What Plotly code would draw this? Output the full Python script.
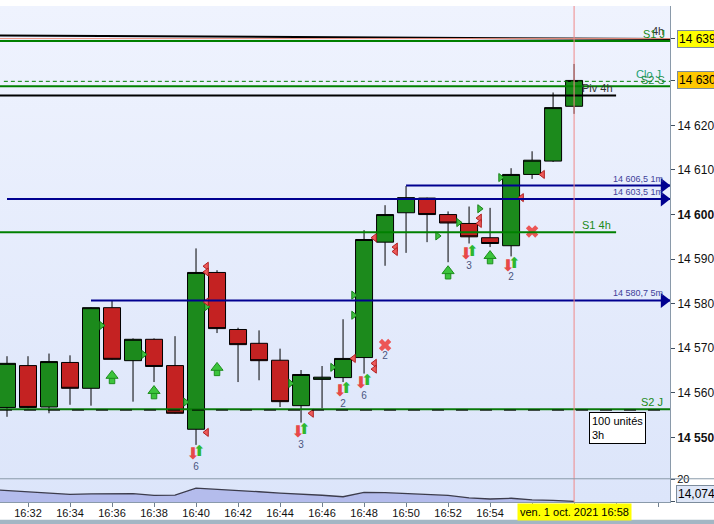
import base64
import plotly.graph_objects as go

DAY = "2021-10-01 "

# ---------------- data ----------------
candle_times = ["16:31", "16:32", "16:33", "16:34", "16:35", "16:36", "16:37", "16:38",
                "16:39", "16:40", "16:41", "16:42", "16:43", "16:44", "16:45", "16:46",
                "16:47", "16:48", "16:49", "16:50", "16:51", "16:52", "16:53", "16:54",
                "16:55", "16:56", "16:57", "16:58"]
opens = [14556.7, 14566.1, 14556.8, 14566.8, 14561.0, 14579.1, 14567.2, 14572.0,
         14566.1, 14551.8, 14587.0, 14574.2, 14571.1, 14567.3, 14557.1, 14563.0,
         14563.4, 14567.9, 14593.8, 14600.4, 14603.7, 14600.0, 14598.0, 14594.8,
         14593.0, 14609.0, 14612.0, 14624.3]
highs = [14568.2, 14568.2, 14568.8, 14568.4, 14579.2, 14580.6, 14572.2, 14572.2,
         14572.7, 14592.4, 14587.5, 14574.6, 14574.0, 14569.9, 14565.1, 14566.0,
         14576.5, 14596.5, 14602.1, 14606.4, 14603.8, 14600.7, 14601.8, 14601.5,
         14610.4, 14614.2, 14627.4, 14633.8]
lows = [14554.6, 14556.5, 14555.4, 14557.3, 14557.1, 14567.4, 14558.0, 14562.4,
        14555.3, 14548.3, 14573.4, 14562.4, 14562.8, 14556.8, 14553.3, 14556.5,
        14562.4, 14564.3, 14588.5, 14591.4, 14593.8, 14589.3, 14593.5, 14592.7,
        14590.6, 14608.0, 14611.8, 14622.6]
closes = [14566.6, 14556.7, 14567.0, 14561.0, 14579.1, 14567.5, 14572.0, 14565.9,
          14555.4, 14587.0, 14574.4, 14570.8, 14567.2, 14558.0, 14564.1, 14563.5,
          14567.7, 14594.4, 14600.0, 14603.8, 14600.0, 14598.1, 14595.0, 14593.5,
          14609.0, 14612.2, 14624.0, 14630.1]

# lower indicator panel
ind_times = ["16:30", "16:31", "16:32", "16:33", "16:34", "16:35", "16:36", "16:37",
             "16:38", "16:39", "16:40", "16:41", "16:42", "16:43", "16:44", "16:45",
             "16:46", "16:47", "16:48", "16:49", "16:50", "16:51", "16:52", "16:53",
             "16:54", "16:55", "16:56", "16:57", "16:58"]
ind_values = [17.3, 16.95, 16.6, 16.3, 15.95, 16.05, 16.2, 16.15, 15.65, 15.75, 17.6,
              17.35, 17.1, 16.65, 16.3, 16.05, 15.7, 15.3, 16.45, 16.4, 16.2, 15.95,
              15.65, 14.98, 14.7, 14.9, 14.45, 14.35, 14.074]

# signal markers
green_tri_times = ["16:35:30", "16:37:30", "16:39:30", "16:40:30", "16:44:30", "16:46:30",
                   "16:47:30", "16:47:30", "16:51:30", "16:52:30", "16:53:30", "16:54:30"]
green_tri_prices = [14575.1, 14568.6, 14557.9, 14579.3, 14562.1, 14565.7,
                    14581.9, 14577.4, 14595.2, 14598.2, 14601.3, 14608.3]
red_tri_times = ["16:40:30", "16:40:30", "16:40:30", "16:40:30", "16:45:30", "16:47:30",
                 "16:48:30", "16:48:30", "16:48:30", "16:49:30", "16:49:30", "16:53:30",
                 "16:53:30", "16:55:30", "16:56:30"]
red_tri_prices = [14588.4, 14587.1, 14580.4, 14551.1, 14555.4, 14567.7,
                  14594.8, 14566.6, 14565.3, 14592.7, 14591.7, 14599.2,
                  14598.0, 14603.8, 14609.0]
up_arrow_times = ["16:36", "16:38", "16:41", "16:52", "16:54"]
up_arrow_prices = [14563.5, 14560.1, 14565.3, 14587.0, 14590.4]
pair_times = ["16:40", "16:45", "16:47", "16:48", "16:53", "16:55"]
pair_prices = [14546.0, 14551.0, 14560.2, 14561.9, 14591.0, 14588.2]
pair_counts = ["6", "3", "2", "6", "3", "2"]
pair_count_prices = [14543.3, 14548.25, 14557.4, 14559.2, 14588.4, 14585.8]
cross_times = ["16:49", "16:56"]
cross_prices = [14570.7, 14596.2]
cross_counts = ["2", ""]
cross_count_prices = [14568.05, 14594.0]

# horizontal levels
trend_start, trend_end = 14640.2, 14639.4
level_salmon = 14639.5
level_s1_j = 14638.95
level_clo_j = 14629.9
level_s2_s = 14628.8
level_piv_4h = 14626.7
level_1m_a = 14606.5
level_1m_b = 14603.5
level_s1_4h = 14596.0
level_5m = 14580.7
level_s2_j = 14556.3
start_1m_a, start_1m_b, start_5m, end_4h = "16:50", "16:31", "16:35", "17:00"

price_ticks = [14550, 14560, 14570, 14580, 14590, 14600, 14610, 14620]
time_ticks = ["16:32", "16:34", "16:36", "16:38", "16:40", "16:42", "16:44", "16:46",
              "16:48", "16:50", "16:52", "16:54", "16:56", "16:58", "17:00", "17:02"]
time_tick_labels = ["16:32", "16:34", "16:36", "16:38", "16:40", "16:42", "16:44", "16:46",
                    "16:48", "16:50", "16:52", "16:54", "", "", "", ""]
last_price_hi = 14639.5
last_price_cl = 14630.1
cursor_time = "16:58"
price_range = [14540.69, 14646.81]
ind_range = [13.89, 20.13]

X_START = DAY + "16:30:40"
X_END = DAY + "17:02:34"
ARROW_X = DAY + "17:02:17"


def t(s):
    return DAY + s


def shift(s, sec):
    import datetime as dt
    base = dt.datetime.strptime(DAY + (s if s.count(":") == 2 else s + ":00"), "%Y-%m-%d %H:%M:%S")
    return (base + dt.timedelta(seconds=sec)).strftime("%Y-%m-%d %H:%M:%S")


FONT = "Liberation Sans, Arial, sans-serif"
ARROWFONT = "DejaVu Sans"
PX = (price_range[1] - price_range[0]) / 478.5  # price units per pixel

fig = go.Figure()

# lower panel
fig.add_trace(go.Scatter(
    x=[t(v) for v in ind_times], y=ind_values, yaxis="y2", mode="lines",
    line=dict(color="#3c3c4c", width=1.3), fill="tozeroy", fillcolor="#b4bcec",
    hoverinfo="skip", showlegend=False))

# candles
fig.add_trace(go.Candlestick(
    x=[t(v) for v in candle_times], open=opens, high=highs, low=lows, close=closes,
    increasing=dict(line=dict(color="#000000", width=1), fillcolor="#1c8a1c"),
    decreasing=dict(line=dict(color="#000000", width=1), fillcolor="#c42222"),
    whiskerwidth=0, showlegend=False, hoverinfo="skip"))

# signal triangles
fig.add_trace(go.Scatter(
    x=[t(v) for v in green_tri_times], y=green_tri_prices, mode="markers",
    marker=dict(symbol="triangle-right", size=7, color="#40c040",
                line=dict(color="#178017", width=1)),
    showlegend=False, hoverinfo="skip"))
fig.add_trace(go.Scatter(
    x=[t(v) for v in red_tri_times], y=red_tri_prices, mode="markers",
    marker=dict(symbol="triangle-left", size=7, color="#ee5a5a",
                line=dict(color="#b02020", width=1)),
    showlegend=False, hoverinfo="skip"))

# big up arrows: stem + head
fig.add_trace(go.Scatter(
    x=[t(v) for v in up_arrow_times], y=[p - 3.8 * PX for p in up_arrow_prices],
    mode="markers",
    marker=dict(symbol="square", size=5.5, color="#3cc43c",
                line=dict(color="#1e8e1e", width=1)),
    showlegend=False, hoverinfo="skip"))
fig.add_trace(go.Scatter(
    x=[t(v) for v in up_arrow_times], y=[p + 1.5 * PX for p in up_arrow_prices],
    mode="markers",
    marker=dict(symbol="triangle-up", size=10.5, color="#3cc43c",
                line=dict(color="#1e8e1e", width=1)),
    showlegend=False, hoverinfo="skip"))

# pairs of small arrows + counts
fig.add_trace(go.Scatter(
    x=[shift(v, -9) for v in pair_times], y=pair_prices, mode="text",
    text=["⬇"] * len(pair_times),
    textfont=dict(family=ARROWFONT, size=16, color="#e84848"),
    showlegend=False, hoverinfo="skip"))
fig.add_trace(go.Scatter(
    x=[shift(v, 9) for v in pair_times], y=[p + 0.6 for p in pair_prices], mode="text",
    text=["⬆"] * len(pair_times),
    textfont=dict(family=ARROWFONT, size=15, color="#2eb82e"),
    showlegend=False, hoverinfo="skip"))
fig.add_trace(go.Scatter(
    x=[t(v) for v in pair_times], y=pair_count_prices, mode="text", text=pair_counts,
    textfont=dict(family=FONT, size=10, color="#4a5580"),
    showlegend=False, hoverinfo="skip"))

# crosses
fig.add_trace(go.Scatter(
    x=[t(v) for v in cross_times], y=cross_prices, mode="markers",
    marker=dict(symbol="x", size=11, color="#ec5656", line=dict(width=0)),
    showlegend=False, hoverinfo="skip"))
fig.add_trace(go.Scatter(
    x=[t(v) for v in cross_times], y=cross_count_prices, mode="text", text=cross_counts,
    textfont=dict(family=FONT, size=10, color="#4a5580"),
    showlegend=False, hoverinfo="skip"))

# blue arrow heads at the right end of the blue levels
fig.add_trace(go.Scatter(
    x=[ARROW_X] * 3, y=[level_1m_a, level_1m_b, level_5m], mode="markers",
    marker=dict(symbol="triangle-right", size=13, color="#000090", line=dict(width=0)),
    showlegend=False, hoverinfo="skip"))

shapes = []


def hline(y, x0, x1, color, width=2, dash="solid"):
    shapes.append(dict(type="line", xref="x", yref="y", x0=x0, x1=x1, y0=y, y1=y,
                       line=dict(color=color, width=width, dash=dash)))


shapes.append(dict(type="line", xref="x", yref="y", x0=X_START, x1=X_END,
                   y0=trend_start, y1=trend_end, line=dict(color="#000000", width=2)))
hline(level_salmon, X_START, X_END, "#f09080", 1)
hline(level_s1_j, X_START, X_END, "#008000", 2)
hline(level_clo_j, DAY + "16:30:51", X_END, "#008000", 1, "4px,3px")
hline(level_s2_s, X_START, X_END, "#008000", 2)
hline(level_piv_4h, X_START, t(end_4h), "#000000", 2)
hline(level_1m_a, t(start_1m_a), X_END, "#000090", 2)
hline(level_1m_b, t(start_1m_b), X_END, "#000090", 2)
hline(level_s1_4h, X_START, t(end_4h), "#008000", 2)
hline(level_5m, t(start_5m), X_END, "#000090", 2)
hline(level_s2_j, X_START, X_END, "#0a7a0a", 2)
hline(level_s2_j - 0.2, X_START, X_END, "#000000", 1, "12px,12px")

# cursor line
shapes.append(dict(type="line", xref="x", yref="paper", x0=t(cursor_time), x1=t(cursor_time),
                   y0=0, y1=1, line=dict(color="#f08888", width=1)))
# panel separator
SEP = (502 - 478.5) / 502
shapes.append(dict(type="line", xref="paper", yref="paper", x0=0, x1=714 / 670, y0=SEP, y1=SEP,
                   line=dict(color="#8a9aaa", width=1)))
# bottom band
shapes.append(dict(type="rect", xref="paper", yref="paper", x0=-0.01, x1=1.08,
                   y0=-(525 - 502) / 502, y1=-(520 - 502) / 502,
                   fillcolor="#a3b6c4", line=dict(width=0), layer="above"))

ann = []


def label(text, x, y, color, size=11, xanchor="right", yref="y", xref="x domain", **kw):
    ann.append(dict(text=text, x=x, y=y, xref=xref, yref=yref, xanchor=xanchor,
                    yanchor="middle", showarrow=False,
                    font=dict(family=FONT, size=size, color=color), **kw))


label("4h", 0.994, 14641.2, "#333333")
label("S1 J", 0.995, 14640.5, "#1a8a1a")
label("Clo J", 0.946, 14631.6, "#20a070", xanchor="left")
label("S2 S", 0.954, 14630.1, "#1a8a3a", xanchor="left")
label("Piv 4h", 0.866, 14628.3, "#333333", xanchor="left")
label("S1 4h", 0.866, 14597.6, "#1a8a1a", xanchor="left")
label("14 606,5 1m", 0.993, 14607.9, "#40409a", size=9)
label("14 603,5 1m", 0.993, 14605.0, "#40409a", size=9)
label("14 580,7 5m", 0.993, 14582.4, "#40409a", size=9)
label("S2 J", 0.992, 14557.9, "#1a8a1a")

# price boxes on the right axis
label("14 639,6", 677 / 670, last_price_hi, "#000000", size=12, xanchor="left", xref="paper",
      bgcolor="#ffff00", bordercolor="#7c8c9c", borderwidth=1, borderpad=1)
label("14 630,1", 677 / 670, last_price_cl, "#000000", size=12, xanchor="left", xref="paper",
      bgcolor="#ffc800", bordercolor="#7c8c9c", borderwidth=1, borderpad=1)
label("14,074", 676 / 670, (502 - 494) / 502, "#000000", size=12, xanchor="left",
      xref="paper", yref="paper", bgcolor="#dfe7f8", bordercolor="#7c8c9c",
      borderwidth=1, borderpad=1)
label("ven. 1 oct. 2021 16:58", t(cursor_time), -(512 - 502) / 502, "#000000", size=11,
      xanchor="center", xref="x", yref="paper", bgcolor="#ffff00", borderpad=2)
ann.append(dict(text="100 unités<br>3h", x=589 / 670, y=(502 - 411) / 502, xref="paper",
                yref="paper", xanchor="left", yanchor="top", align="left", showarrow=False,
                bgcolor="#ffffff", bordercolor="#000000", borderwidth=1, borderpad=2,
                font=dict(family=FONT, size=11, color="#000000")))

# background gradient
svg = ('<svg xmlns="http://www.w3.org/2000/svg" width="10" height="100" viewBox="0 0 10 100" '
       'preserveAspectRatio="none"><defs><linearGradient id="g" x1="0" y1="0" x2="0" y2="1">'
       '<stop offset="0" stop-color="#eff3fe"/><stop offset="1" stop-color="#dce5fa"/>'
       '</linearGradient></defs><rect width="10" height="100" fill="url(#g)"/></svg>')
bg_src = "data:image/svg+xml;base64," + base64.b64encode(svg.encode()).decode()

tick_text = []
for v in price_ticks:
    s = f"{v:,}".replace(",", " ")
    tick_text.append(f"<b>{s}</b>" if v in (14550, 14600) else s)

fig.update_layout(
    width=714, height=524,
    margin=dict(l=0, r=44, t=0, b=22),
    paper_bgcolor="#ffffff", plot_bgcolor="rgba(0,0,0,0)",
    font=dict(family=FONT, size=11, color="#111111"),
    showlegend=False,
    boxgap=0.19, boxgroupgap=0,
    shapes=shapes, annotations=ann,
    images=[dict(source=bg_src, xref="paper", yref="paper", x=0, y=1, sizex=1, sizey=1,
                 xanchor="left", yanchor="top", sizing="stretch", layer="below")],
    xaxis=dict(type="date", range=[X_START, X_END], anchor="y2", domain=[0, 1],
               rangeslider=dict(visible=False), showgrid=False, zeroline=False,
               tickvals=[t(v) for v in time_ticks], ticktext=time_tick_labels,
               ticks="outside", ticklen=4, tickcolor="#708090", showline=True,
               linecolor="#8a9aaa", tickfont=dict(size=11, color="#111111"),
               ticklabelstandoff=-3),
    yaxis=dict(domain=[SEP, 1], range=price_range, side="right", anchor="x",
               showgrid=False, zeroline=False, showline=True, linecolor="#8a9aaa",
               tickvals=price_ticks + [last_price_hi, last_price_cl],
               ticktext=tick_text + ["", ""], ticks="outside", ticklen=4,
               tickcolor="#405060", tickfont=dict(size=12, color="#111111")),
    yaxis2=dict(domain=[0, SEP], range=ind_range, side="right", anchor="x",
                showgrid=False, zeroline=False, showline=True, linecolor="#8a9aaa",
                tickvals=[20, 14.074], ticktext=["20", ""], ticks="outside", ticklen=4,
                tickcolor="#405060", tickfont=dict(size=11, color="#111111")),
)

fig.write_html("out.html", config={"displayModeBar": False},
               post_script="document.body.style.margin='0';"
                           "document.body.style.overflow='hidden';")
